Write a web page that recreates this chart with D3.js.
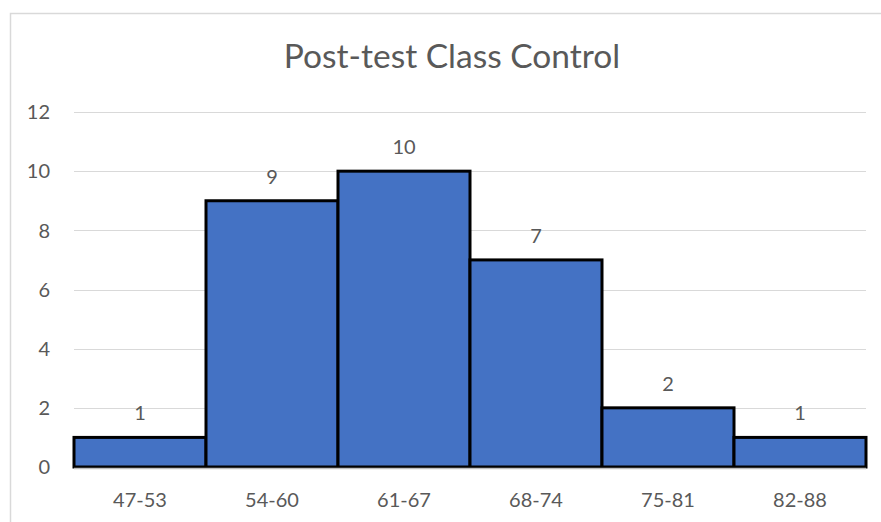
<!DOCTYPE html>
<html lang="en">
<head>
  <meta charset="UTF-8">
  <title>Post-test Class Control</title>
  <style>
    body { margin: 0; background: #fff; }
    text { font-family: Lato, "Open Sans", sans-serif; fill: #595959; }
  </style>
</head>
<body>
<svg id="chart" width="881" height="522"></svg>
<script src="https://d3js.org/d3.v7.min.js"></script>
<script>
  // histogram bins and counts
  const categories = ["47-53", "54-60", "61-67", "68-74", "75-81", "82-88"];
  const counts = [1, 9, 10, 7, 2, 1];
  const yTicks = [0, 2, 4, 6, 8, 10, 12];
  const title = "Post-test Class Control";

  const svg = d3.select("#chart"),
    margin = {left: 74, right: 15, top: 112, bottom: 55},
    width = +svg.attr("width"),
    height = +svg.attr("height");

  // outer chart frame (runs off the bottom/right of the window)
  svg.append("rect")
    .attr("x", 10.5).attr("y", 13.5)
    .attr("width", 900).attr("height", 600)
    .attr("fill", "none")
    .attr("stroke", "#d9d9d9")
    .attr("stroke-width", 1.5);

  const x = d3.scaleBand()
    .domain(categories)
    .range([margin.left, width - margin.right])
    .padding(0);

  const y = d3.scaleLinear()
    .domain([0, 12])
    .range([height - margin.bottom, margin.top]);

  // gridlines
  svg.append("g")
    .selectAll("line")
    .data(yTicks)
    .join("line")
      .attr("x1", margin.left)
      .attr("x2", width - margin.right)
      .attr("y1", d => Math.round(y(d)) + 0.5)
      .attr("y2", d => Math.round(y(d)) + 0.5)
      .attr("stroke", "#d9d9d9")
      .attr("stroke-width", 1.2);

  // y tick labels
  svg.append("g")
    .selectAll("text")
    .data(yTicks)
    .join("text")
      .attr("x", 50)
      .attr("y", d => y(d))
      .attr("dy", "0.36em")
      .attr("text-anchor", "end")
      .attr("font-size", 20)
      .text(d => d);

  // bars
  svg.append("g")
    .selectAll("rect")
    .data(counts)
    .join("rect")
      .attr("x", (d, i) => x(categories[i]))
      .attr("y", d => y(d))
      .attr("width", x.bandwidth())
      .attr("height", d => y(0) - y(d))
      .attr("fill", "#4472c4")
      .attr("stroke", "#000")
      .attr("stroke-width", 3);

  // baseline
  svg.append("line")
    .attr("x1", margin.left).attr("x2", width - margin.right)
    .attr("y1", y(0) + 1.5).attr("y2", y(0) + 1.5)
    .attr("stroke", "#bfbfbf")
    .attr("stroke-width", 1.5);

  // value labels
  svg.append("g")
    .selectAll("text")
    .data(counts)
    .join("text")
      .attr("x", (d, i) => x(categories[i]) + x.bandwidth() / 2)
      .attr("y", d => y(d) - 17)
      .attr("text-anchor", "middle")
      .attr("font-size", 20)
      .text(d => d);

  // category labels
  svg.append("g")
    .selectAll("text")
    .data(categories)
    .join("text")
      .attr("x", d => x(d) + x.bandwidth() / 2)
      .attr("y", y(0) + 40)
      .attr("text-anchor", "middle")
      .attr("font-size", 20)
      .text(d => d);

  svg.append("text")
    .attr("x", 452)
    .attr("y", 68)
    .attr("text-anchor", "middle")
    .attr("font-size", 33.5)
    .text(title);
</script>
</body>
</html>
